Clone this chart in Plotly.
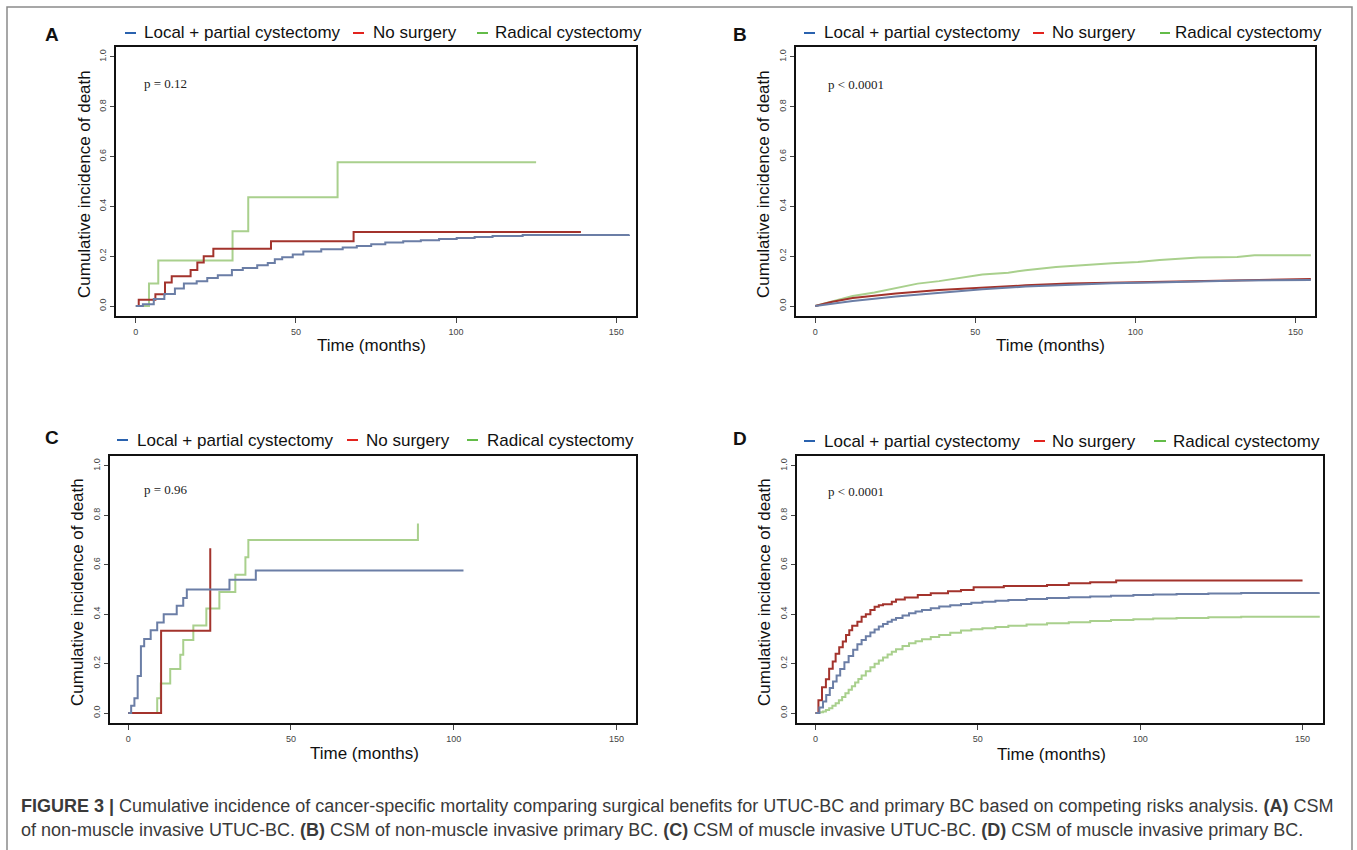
import plotly.graph_objects as go

W, H = 1357, 850

# ---------------- data ----------------
series_names = ["Local + partial cystectomy", "No surgery", "Radical cystectomy"]

# Panel A: non-muscle invasive UTUC-BC
a_local_t = [0, 2.2, 5.6, 8.9, 12.2, 15, 19, 22.3, 25.6, 30, 33.4, 37.9, 41.2, 43.4, 45.7, 49, 52.3,
             57.9, 64.6, 69, 73.5, 77.9, 83.5, 89, 94.7, 100.2, 105.8, 111.4, 120.8, 154]
a_local_y = [0, 0.007, 0.028, 0.048, 0.07, 0.09, 0.10, 0.113, 0.124, 0.145, 0.153, 0.164, 0.173, 0.188,
             0.196, 0.207, 0.219, 0.228, 0.235, 0.241, 0.248, 0.255, 0.26, 0.264, 0.269, 0.273, 0.277,
             0.281, 0.285, 0.287]
a_none_t = [0, 0.9, 6.1, 9.1, 11.2, 17.1, 19.2, 21.2, 24.2, 42.2, 68, 139]
a_none_y = [0, 0.025, 0.047, 0.095, 0.12, 0.145, 0.175, 0.20, 0.23, 0.26, 0.297, 0.297]
a_rad_t = [0, 4.1, 7, 30.2, 35.1, 63, 125]
a_rad_y = [0, 0.09, 0.183, 0.30, 0.437, 0.577, 0.577]

# Panel B: non-muscle invasive primary BC
b_local_t = [0, 11.7, 25.2, 38.7, 52.2, 65.7, 79.2, 92.7, 106.2, 119.7, 133.2, 154.8]
b_local_y = [0, 0.02, 0.038, 0.054, 0.067, 0.078, 0.086, 0.091, 0.095, 0.099, 0.103, 0.105]
b_none_t = [0, 5, 11.7, 25.2, 38.7, 52.2, 65.7, 79.2, 92.7, 106.2, 119.7, 133.2, 154.8]
b_none_y = [0, 0.016, 0.032, 0.05, 0.064, 0.075, 0.083, 0.09, 0.093, 0.097, 0.10, 0.105, 0.109]
b_rad_t = [0, 5, 11.7, 18.5, 25.2, 32, 38.7, 45.5, 52.2, 60.3, 65.7, 75.2, 86, 92.7, 100.8, 107.6,
           119.7, 131.8, 137.2, 154.8]
b_rad_y = [0, 0.018, 0.04, 0.054, 0.072, 0.09, 0.10, 0.114, 0.127, 0.134, 0.144, 0.157, 0.167, 0.172,
           0.177, 0.185, 0.195, 0.197, 0.204, 0.204]

# Panel C: muscle invasive UTUC-BC
c_local_t = [0, 0.9, 1.9, 2.9, 3.9, 4.9, 6.9, 8.9, 10.9, 14.9, 16.9, 18, 31.1, 39.2, 103]
c_local_y = [0, 0.03, 0.06, 0.15, 0.27, 0.30, 0.335, 0.367, 0.40, 0.434, 0.466, 0.50, 0.539, 0.577, 0.577]
c_none_t = [0, 10.1, 25.2]
c_none_y = [0, 0.333, 0.667]
c_rad_t = [0, 8.9, 10, 12.9, 16, 16.9, 20, 24, 28, 32.9, 36, 36.9, 89]
c_rad_y = [0, 0.06, 0.12, 0.178, 0.236, 0.296, 0.354, 0.423, 0.49, 0.56, 0.63, 0.70, 0.767]

# Panel D: muscle invasive primary BC
d_local_t = [0, 1.2, 2.3, 3.3, 4.4, 5.4, 6.5, 7.6, 8.9, 10.2, 11.6, 12.9, 14.2, 15.5, 16.9, 18.2, 19.5,
             20.8, 22.2, 23.5, 24.8, 26.8, 28.8, 30.8, 32.8, 35.5, 38.1, 41.5, 44.8, 48, 51.4, 55.4,
             59.4, 65, 71.3, 78, 84.6, 91, 97.9, 104, 111.2, 121, 131.1, 155]
d_local_y = [0, 0.023, 0.047, 0.073, 0.102, 0.128, 0.152, 0.178, 0.206, 0.231, 0.256, 0.279, 0.296,
             0.311, 0.326, 0.338, 0.35, 0.36, 0.37, 0.378, 0.385, 0.395, 0.404, 0.411, 0.417, 0.424,
             0.431, 0.436, 0.441, 0.446, 0.45, 0.454, 0.458, 0.462, 0.466, 0.469, 0.472, 0.475, 0.478,
             0.48, 0.482, 0.484, 0.486, 0.489]
d_none_t = [0, 0.9, 2, 3.2, 4.2, 5.3, 6.2, 7.3, 8.4, 9.4, 10.4, 11.3, 12.9, 14.2, 15.5, 16.9, 18.2,
            19.5, 20.8, 23.5, 24.8, 27.5, 31.5, 35.5, 40.8, 44.8, 48.7, 58, 71.3, 78, 84.6, 92.6, 150]
d_none_y = [0, 0.052, 0.105, 0.137, 0.179, 0.209, 0.24, 0.266, 0.29, 0.316, 0.335, 0.353, 0.37, 0.39,
            0.40, 0.417, 0.43, 0.436, 0.44, 0.45, 0.46, 0.468, 0.478, 0.485, 0.493, 0.498, 0.509,
            0.514, 0.518, 0.525, 0.529, 0.536, 0.536]
d_rad_t = [0, 1.2, 2.3, 3.2, 4.2, 5.2, 6.2, 7.2, 8.2, 9.2, 10.2, 11.2, 12.2, 13.2, 14.2, 15.5, 16.9,
           18.2, 19.5, 20.8, 22.2, 23.5, 24.8, 26.8, 28.8, 30.8, 32.8, 35.5, 38.1, 41.5, 44.8, 48,
           51.4, 55.4, 59.4, 65, 71.3, 78, 84.6, 91, 97.9, 104, 111.2, 121, 131.1, 155]
d_rad_y = [0, 0.003, 0.007, 0.013, 0.02, 0.03, 0.04, 0.052, 0.065, 0.08, 0.094, 0.109, 0.124, 0.138,
           0.152, 0.169, 0.186, 0.2, 0.213, 0.225, 0.237, 0.248, 0.258, 0.271, 0.283, 0.291, 0.299,
           0.308, 0.316, 0.325, 0.334, 0.339, 0.343, 0.348, 0.353, 0.358, 0.363, 0.368, 0.373, 0.377,
           0.38, 0.383, 0.385, 0.388, 0.39, 0.394]

p_texts = ["p = 0.12", "p < 0.0001", "p = 0.96", "p < 0.0001"]
panel_letters = ["A", "B", "C", "D"]
x_ticks = [0, 50, 100, 150]
y_ticks = [0.0, 0.2, 0.4, 0.6, 0.8, 1.0]
y_tick_labels = ["0.0", "0.2", "0.4", "0.6", "0.8", "1.0"]
x_title = "Time (months)"
y_title = "Cumulative incidence of death"
caption_line1 = ("<b>FIGURE 3 |</b> Cumulative incidence of cancer-specific mortality comparing surgical "
                 "benefits for UTUC-BC and primary BC based on competing risks analysis. <b>(A)</b> CSM")
caption_line2 = ("of non-muscle invasive UTUC-BC. <b>(B)</b> CSM of non-muscle invasive primary BC. "
                 "<b>(C)</b> CSM of muscle invasive UTUC-BC. <b>(D)</b> CSM of muscle invasive primary BC.")

# ---------------- styling / layout ----------------
line_colors = ["#6B7EA6", "#A3332C", "#A9D08D"]
key_colors = ["#2A62AE", "#E2231E", "#63BC48"]

panels = [
    dict(data=[(a_local_t, a_local_y, "hv"), (a_none_t, a_none_y, "hv"), (a_rad_t, a_rad_y, "hv")],
         box=(116, 636, 47, 316), xr=[-6.2, 156.2],
         letter=(52, 35), ptxt=(142, 83), ytitle=(85, 184), xtitle=(371, 346),
         keys=[(125, 136, 142), (353, 364, 371), (477, 488, 493)], keyy=33),
    dict(data=[(b_local_t, b_local_y, "linear"), (b_none_t, b_none_y, "linear"), (b_rad_t, b_rad_y, "linear")],
         box=(796, 1315, 47, 316), xr=[-6.0, 156.1],
         letter=(740, 35), ptxt=(826, 85), ytitle=(764, 184), xtitle=(1050, 346),
         keys=[(804, 815, 822), (1033, 1044, 1050), (1160, 1170, 1173)], keyy=33),
    dict(data=[(c_local_t, c_local_y, "hv"), (c_none_t, c_none_y, "hv"), (c_rad_t, c_rad_y, "hv")],
         box=(110, 636, 456, 723), xr=[-5.6, 156.0],
         letter=(52, 437), ptxt=(142, 490), ytitle=(77, 592), xtitle=(364, 753),
         keys=[(117, 128, 135), (347, 358, 364), (467, 478, 485)], keyy=440),
    dict(data=[(d_local_t, d_local_y, "hv"), (d_none_t, d_none_y, "hv"), (d_rad_t, d_rad_y, "hv")],
         box=(797, 1323, 456, 723), xr=[-5.7, 156.3],
         letter=(740, 438), ptxt=(826, 491), ytitle=(764, 592), xtitle=(1051, 754),
         keys=[(804, 815, 822), (1034, 1045, 1050), (1154, 1166, 1171)], keyy=441),
]


def px(x):
    return x / W


def py(y):
    return 1 - y / H


fig = go.Figure()
annotations = []
shapes = []
layout_axes = {}
SANS = "Liberation Sans, Arial, sans-serif"

for i, p in enumerate(panels):
    n = "" if i == 0 else str(i + 1)
    xa, ya = "x" + n, "y" + n
    for j in [2, 1, 0]:
        t, v, shp = p["data"][j]
        fig.add_trace(go.Scatter(x=t, y=v, mode="lines", name=series_names[j],
                                 line=dict(color=line_colors[j], width=2, shape=shp),
                                 xaxis=xa, yaxis=ya, showlegend=False, hoverinfo="skip"))
    l, r, tp, bt = p["box"]
    layout_axes["xaxis" + n] = dict(domain=[px(l), px(r)], range=p["xr"], anchor=ya,
                                    tickvals=x_ticks, ticks="outside", ticklen=5, tickwidth=1,
                                    tickcolor="#444", showline=True, mirror=True, linecolor="#111",
                                    linewidth=2, showgrid=False, zeroline=False,
                                    tickfont=dict(family=SANS, size=9, color="#444"),
                                    ticklabelstandoff=1)
    layout_axes["yaxis" + n] = dict(domain=[py(bt), py(tp)], range=[-0.04, 1.04], anchor=xa,
                                    tickvals=y_ticks, ticktext=y_tick_labels, ticks="outside",
                                    ticklen=4, tickwidth=1, tickcolor="#444", tickangle=-90,
                                    showline=True, mirror=True, linecolor="#111", linewidth=2,
                                    showgrid=False, zeroline=False,
                                    tickfont=dict(family=SANS, size=9, color="#444"),
                                    ticklabelstandoff=0)
    annotations.append(dict(x=px(p["letter"][0]), y=py(p["letter"][1]), xref="paper", yref="paper",
                            text="<b>%s</b>" % panel_letters[i], showarrow=False,
                            font=dict(family=SANS, size=19, color="#111"),
                            xanchor="center", yanchor="middle"))
    annotations.append(dict(x=px(p["ptxt"][0]), y=py(p["ptxt"][1]), xref="paper", yref="paper",
                            text=p_texts[i], showarrow=False,
                            font=dict(family="Liberation Serif, Times New Roman, serif", size=13, color="#222"),
                            xanchor="left", yanchor="middle"))
    annotations.append(dict(x=px(p["ytitle"][0]), y=py(p["ytitle"][1]), xref="paper", yref="paper",
                            text=y_title, showarrow=False, textangle=-90,
                            font=dict(family=SANS, size=17, color="#111"),
                            xanchor="center", yanchor="middle"))
    annotations.append(dict(x=px(p["xtitle"][0]), y=py(p["xtitle"][1]), xref="paper", yref="paper",
                            text=x_title, showarrow=False,
                            font=dict(family=SANS, size=17, color="#111"),
                            xanchor="center", yanchor="middle"))
    for j, (k0, k1, tx) in enumerate(p["keys"]):
        shapes.append(dict(type="line", xref="paper", yref="paper", x0=px(k0), x1=px(k1),
                           y0=py(p["keyy"]), y1=py(p["keyy"]),
                           line=dict(color=key_colors[j], width=2)))
        annotations.append(dict(x=px(tx), y=py(p["keyy"]), xref="paper", yref="paper",
                                text=series_names[j], showarrow=False,
                                font=dict(family=SANS, size=17, color="#111"),
                                xanchor="left", yanchor="middle"))

# caption
annotations.append(dict(x=px(19), y=py(806), xref="paper", yref="paper", text=caption_line1,
                        showarrow=False, font=dict(family=SANS, size=18, color="#3a3a3a"),
                        xanchor="left", yanchor="middle"))
annotations.append(dict(x=px(19), y=py(830), xref="paper", yref="paper", text=caption_line2,
                        showarrow=False, font=dict(family=SANS, size=18, color="#3a3a3a"),
                        xanchor="left", yanchor="middle"))

# outer frame
shapes.append(dict(type="rect", xref="paper", yref="paper", x0=px(7), x1=px(1352), y0=py(7), y1=py(870),
                   line=dict(color="#8a8a8a", width=1.5), fillcolor="rgba(0,0,0,0)", layer="below"))

fig.update_layout(width=W, height=H, margin=dict(l=0, r=0, t=0, b=0),
                  paper_bgcolor="white", plot_bgcolor="white",
                  annotations=annotations, shapes=shapes, showlegend=False, **layout_axes)

fig.write_html("out.html", config={"displayModeBar": False},
               post_script="document.body.style.margin='0px';document.body.style.overflow='hidden';")
